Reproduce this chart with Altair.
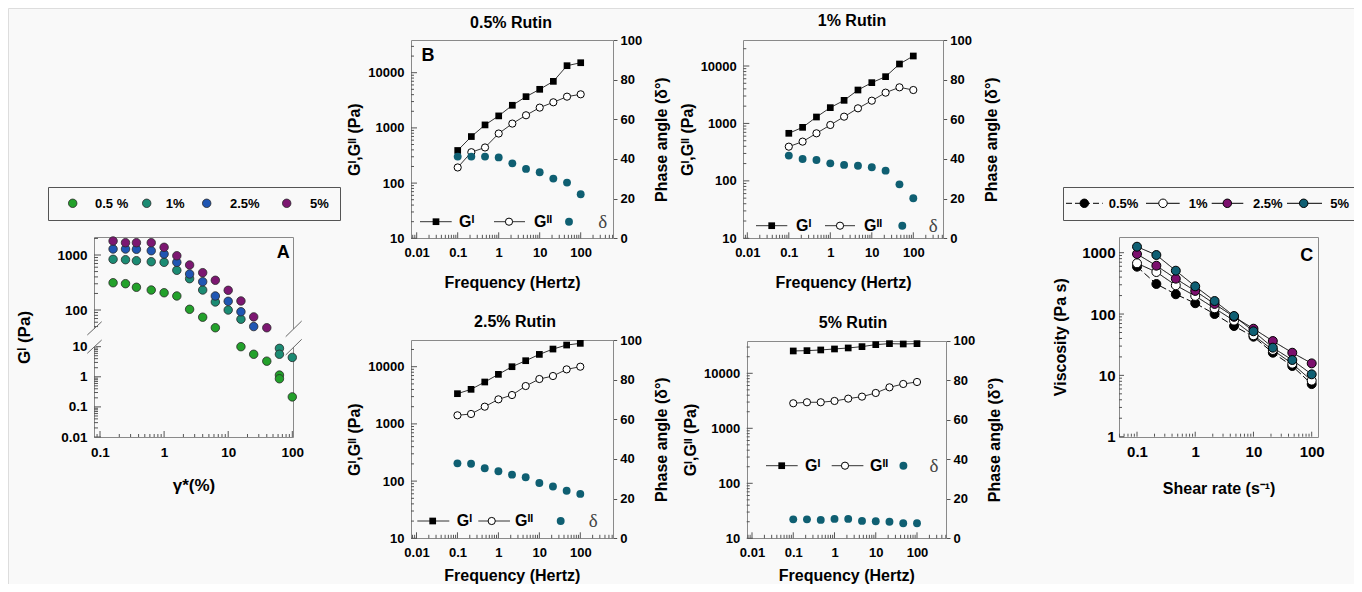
import math
import altair as alt
import pandas as pd

FONT = "Liberation Sans"
SERIF = "Liberation Serif"
W, H = 1346, 576
MARGIN = 8
BG = "#f9f9f9"
AXC = "#555555"
FRAMEC = "#8a8a8a"

# ---------------- data ----------------
# Panel A: G' vs strain amplitude
A_series = ["0.5 %", "1%", "2.5%", "5%"]
A_colors = ["#23a12b", "#1b8b73", "#1f56b3", "#7c1771"]
A_strain_05 = [0.16, 0.25, 0.37, 0.63, 1.0, 1.58, 2.5, 4.0, 6.3, 15.8, 25, 40, 63, 63, 100]
A_G_05 = [313, 301, 259, 231, 206, 180, 103, 74, 47.6, 10, 5.6, 3.3, 1.14, 0.86, 0.215]
A_strain_1 = [0.16, 0.25, 0.37, 0.63, 1.0, 1.58, 2.5, 4.0, 6.3, 10, 15.8, 63, 63, 100]
A_G_1 = [835, 821, 788, 755, 737, 527, 371, 231, 140, 100, 68, 8.8, 5.6, 4.4]
A_strain_25 = [0.16, 0.25, 0.37, 0.63, 1.0, 1.58, 2.5, 4.0, 6.3, 10, 15.8, 25]
A_G_25 = [1285, 1285, 1270, 1197, 1042, 737, 452, 327, 180, 144, 93, 50]
A_strain_5 = [0.16, 0.25, 0.37, 0.63, 1.0, 1.58, 2.5, 4.0, 6.3, 10, 15.8, 25, 40]
A_G_5 = [1797, 1675, 1675, 1675, 1380, 970, 658, 477, 347, 228, 146, 75, 47.6]

# Panel B: frequency sweeps
freq = [0.1, 0.215, 0.464, 1, 2.15, 4.64, 10, 21.5, 46.4, 100]
B05_Gp = [390, 697, 1133, 1650, 2570, 3680, 5000, 6970, 13400, 15160]
B05_Gpp = [192, 363, 442, 791, 1197, 1694, 2330, 2910, 3680, 4060]
B05_delta = [41.2, 41.2, 41.2, 40.8, 37.8, 35.0, 33.3, 30.1, 28.1, 22.2]
B1_Gp = [673, 855, 1294, 1884, 2524, 3818, 5130, 6520, 10830, 14930]
B1_Gpp = [394, 482, 673, 940, 1312, 1833, 2489, 3435, 4254, 3818]
B1_delta = [41.7, 40.0, 39.5, 37.8, 37.0, 36.6, 35.8, 34.1, 27.2, 20.2]
B25_Gp = [3375, 4020, 5400, 7350, 10000, 12730, 16410, 20350, 23920, 25590]
B25_Gpp = [1413, 1491, 2000, 2686, 3198, 4593, 6094, 6870, 8980, 10000]
B25_delta = [37.8, 37.6, 35.3, 33.8, 32.1, 30.8, 27.9, 26.1, 24.0, 22.4]
B5_Gp = [25470, 25830, 26560, 27690, 28890, 30550, 33220, 34600, 34100, 34600]
B5_Gpp = [2851, 2973, 2973, 3140, 3461, 3766, 4389, 5556, 6398, 6952]
B5_delta = [9.6, 9.6, 9.3, 9.8, 9.8, 8.8, 8.6, 8.4, 7.6, 7.6]
DELTA_COLOR = "#0f5f72"

# Panel C: viscosity vs shear rate
shear = [0.1, 0.215, 0.464, 1, 2.15, 4.64, 10, 21.5, 46.4, 100]
C_series = ["0.5%", "1%", "2.5%", "5%"]
C_colors = ["#000000", "#ffffff", "#7b0f6d", "#0f5f73"]
C_05 = [591, 309, 210, 150, 100, 63.8, 42.7, 23.4, 14.2, 7.2]
C_1 = [672, 484, 294, 197, 124, 78, 45, 25.9, 15.5, 8.2]
C_25 = [952, 614, 377, 238, 146, 90, 57.7, 36.3, 23.4, 15.7]
C_5 = [1253, 917, 509, 283, 163, 92.9, 52.3, 28.3, 17.8, 10.4]

ONE = pd.DataFrame({"k": [0]})


def px(v):
    return v - MARGIN


def log_scale(v1, p1, v2, p2, e1, e2):
    a1, a2 = math.log10(v1), math.log10(v2)
    s = (a2 - a1) / (p2 - p1)
    dom = [10 ** (a1 + s * (e1 - p1)), 10 ** (a1 + s * (e2 - p1))]
    return alt.Scale(type="log", domain=dom, range=[px(e1), px(e2)], nice=False), dom


def minor_vals(lo, hi, exps):
    out = []
    for e in exps:
        for m in range(2, 10):
            v = round(m * 10.0 ** e, 6)
            if lo <= v <= hi:
                out.append(v)
    return out


AX = dict(domain=False, ticks=False, grid=False, labelFont=FONT, labelFontWeight="bold",
          labelColor="black", titleFont=FONT, titleFontWeight="bold", titleColor="black",
          labelFlush=False, labelOverlap=False, labelExpr="format(datum.value, '~g')")


def ytick_layer(vals, scale, x_left, length):
    df = pd.DataFrame({"v": vals})
    return alt.Chart(df).mark_rule(color=AXC, strokeWidth=1).encode(
        y=alt.Y("v:Q", scale=scale),
        x=alt.value(px(x_left)), x2=alt.value(px(x_left) + length))


def xtick_layer(vals, scale, y_bottom, length):
    df = pd.DataFrame({"v": vals})
    return alt.Chart(df).mark_rule(color=AXC, strokeWidth=1).encode(
        x=alt.X("v:Q", scale=scale),
        y=alt.value(px(y_bottom)), y2=alt.value(px(y_bottom) - length))


# ---------------- decoration helpers (page coordinates) ----------------
def txt(x, y, s, size=13, weight="bold", align="center", color="black", font=FONT):
    return alt.Chart(ONE).mark_text(text=s, fontSize=size, fontWeight=weight, align=align,
                                    baseline="middle", color=color, font=font).encode(
        x=alt.value(px(x)), y=alt.value(px(y)))


def seg(x1, y1, x2, y2, color="#333333", width=1, dash=None):
    kw = dict(color=color, strokeWidth=width)
    if dash:
        kw["strokeDash"] = dash
    return alt.Chart(ONE).mark_rule(**kw).encode(
        x=alt.value(px(x1)), y=alt.value(px(y1)), x2=alt.value(px(x2)), y2=alt.value(px(y2)))


def frame(x1, y1, x2, y2, color=FRAMEC):
    return alt.Chart(ONE).mark_rect(fill=BG, fillOpacity=0, stroke=color, strokeWidth=1).encode(
        x=alt.value(round(px(x1)) + 0.5), x2=alt.value(round(px(x2)) + 0.5),
        y=alt.value(round(px(y1)) + 0.5), y2=alt.value(round(px(y2)) + 0.5))


def sym(x, y, shape, size, fill, stroke=None, sw=1.0):
    kw = dict(shape=shape, size=size, filled=True, fill=fill, opacity=1)
    if stroke:
        kw["stroke"] = stroke
        kw["strokeWidth"] = sw
    return alt.Chart(ONE).mark_point(**kw).encode(x=alt.value(px(x)), y=alt.value(px(y)))


# ---------------- Panel A ----------------
A_L, A_R, A_T, A_B = 94, 293, 237, 437
sxA, domxA = log_scale(0.1, 100, 100, 292.3, A_L, A_R)
syA = alt.Scale(type="log", domain=[0.01, 12, 40, 2125],
                range=[px(437), px(344.3), px(331.9), px(237)], nice=False)

rowsA = []
for name, xs, ys in zip(A_series, [A_strain_05, A_strain_1, A_strain_25, A_strain_5],
                        [A_G_05, A_G_1, A_G_25, A_G_5]):
    for xv, yv in zip(xs, ys):
        rowsA.append({"series": name, "strain": xv, "g": yv})
dfA = pd.DataFrame(rowsA)

pointsA = alt.Chart(dfA).mark_point(shape="circle", filled=True, size=72, stroke="#2a2a2a",
                                    strokeWidth=0.8, opacity=1).encode(
    x=alt.X("strain:Q", scale=sxA, axis=alt.Axis(
        orient="bottom", offset=-(H - px(A_B)), values=[0.1, 1, 10, 100], labelFontSize=13.5,
        labelPadding=8, title="γ*(%)", titleFontSize=17, titlePadding=19, **AX)),
    y=alt.Y("g:Q", scale=syA, axis=alt.Axis(
        orient="left", offset=-px(A_L), values=[0.01, 0.1, 1, 10, 100, 1000], labelFontSize=13.5,
        labelPadding=7, title="Gᴵ (Pa)", titleFontSize=17, titlePadding=23, **AX)),
    fill=alt.Fill("series:N", scale=alt.Scale(domain=A_series, range=A_colors), legend=None),
)
A_ymin = [v for v in minor_vals(0.01, 9.99, [-2, -1, 0])] + minor_vals(41, 2125, [1, 2, 3])
panelA = alt.layer(
    pointsA,
    ytick_layer([0.01, 0.1, 1, 10, 100, 1000], syA, A_L, 7),
    ytick_layer(A_ymin, syA, A_L, 4),
    xtick_layer([0.1, 1, 10, 100], sxA, A_B, 6),
    xtick_layer(minor_vals(domxA[0], domxA[1], [-2, -1, 0, 1]), sxA, A_B, 3),
)


# ---------------- Panel B ----------------
def panel_b(gp, gpp, dl, L, R, T, Bt, x001, x100, y10000, xtitle_pad=15):
    sx, domx = log_scale(0.01, x001, 100, x100, L, R)
    sy, domy = log_scale(10, Bt, 10000, y10000, Bt, T)
    sd = alt.Scale(type="linear", domain=[0, 100], range=[px(Bt), px(T)], nice=False, zero=False)
    df = pd.DataFrame({"f": freq, "gp": gp, "gpp": gpp, "d": dl})
    xax = alt.Axis(orient="bottom", offset=-(H - px(Bt)), values=[0.01, 0.1, 1, 10, 100],
                   labelFontSize=13, labelPadding=8, title="Frequency (Hertz)", titleFontSize=16,
                   titlePadding=xtitle_pad, **AX)
    yax = alt.Axis(orient="left", offset=-px(L), values=[10, 100, 1000, 10000], labelFontSize=13,
                   labelPadding=7, title="Gᴵ,Gᴵᴵ (Pa)", titleFontSize=16, titlePadding=5, **AX)
    rkw = dict(AX)
    rkw["ticks"] = True
    rax = alt.Axis(orient="right", offset=-(W - px(R)), values=[0, 20, 40, 60, 80, 100],
                   tickSize=4, tickColor=AXC, labelFontSize=13, labelPadding=3,
                   title="Phase angle (δ°)", titleFontSize=16, titlePadding=12, titleAngle=270,
                   titleBaseline="top", **rkw)
    base = alt.Chart(df)
    l1 = base.mark_line(color="#333333", strokeWidth=1).encode(
        x=alt.X("f:Q", scale=sx, axis=xax), y=alt.Y("gp:Q", scale=sy, axis=yax))
    l2 = base.mark_line(color="#333333", strokeWidth=1).encode(
        x=alt.X("f:Q", scale=sx), y=alt.Y("gpp:Q", scale=sy))
    p1 = base.mark_point(shape="square", filled=True, fill="black", size=45, opacity=1).encode(
        x=alt.X("f:Q", scale=sx), y=alt.Y("gp:Q", scale=sy))
    p2 = base.mark_point(shape="circle", filled=True, fill="white", stroke="black", strokeWidth=1,
                         size=52, opacity=1).encode(
        x=alt.X("f:Q", scale=sx), y=alt.Y("gpp:Q", scale=sy))
    g = alt.layer(
        l1, l2,
        ytick_layer([10, 100, 1000, 10000], sy, L, 6),
        ytick_layer(minor_vals(domy[0], domy[1], [1, 2, 3, 4]), sy, L, 3),
        xtick_layer([0.01, 0.1, 1, 10, 100], sx, Bt, 6),
        xtick_layer(minor_vals(domx[0], domx[1], [-3, -2, -1, 0, 1, 2]), sx, Bt, 3.5),
        p1, p2,
    )
    d = base.mark_circle(color=DELTA_COLOR, size=62, opacity=1).encode(
        x=alt.X("f:Q", scale=sx), y=alt.Y("d:Q", scale=sd, axis=rax))
    return alt.layer(g, d).resolve_scale(y="independent")


panelB1 = panel_b(B05_Gp, B05_Gpp, B05_delta, 411, 613, 40, 238.3, 416.7, 580.7, 72.7)
panelB2 = panel_b(B1_Gp, B1_Gpp, B1_delta, 743.3, 942.7, 40, 238.3, 747.3, 913.3, 66)
panelB3 = panel_b(B25_Gp, B25_Gpp, B25_delta, 411, 612.7, 340, 538.3, 416.5, 580.3, 366.7,
                  xtitle_pad=8)
panelB4 = panel_b(B5_Gp, B5_Gpp, B5_delta, 746.7, 946, 340.7, 538.3, 752, 917, 373.3,
                  xtitle_pad=8)

# ---------------- Panel C ----------------
C_L, C_R, C_T, C_B = 1119, 1318.3, 236.7, 436.7
sxC, domxC = log_scale(0.1, 1137, 100, 1311.7, C_L, C_R)
syC, domyC = log_scale(1, 436.7, 1000, 252.7, C_B, C_T)
rowsC = []
for name, ys in zip(C_series, [C_05, C_1, C_25, C_5]):
    for xv, yv in zip(shear, ys):
        rowsC.append({"series": name, "rate": xv, "visc": yv})
dfC = pd.DataFrame(rowsC)
linesC = alt.Chart(dfC).mark_line(color="black", strokeWidth=1).encode(
    x=alt.X("rate:Q", scale=sxC, axis=alt.Axis(
        orient="bottom", offset=-(H - px(C_B)), values=[0.1, 1, 10, 100], labelFontSize=15,
        labelPadding=8, title="Shear rate (s⁻¹)", titleFontSize=16, titlePadding=21, **AX)),
    y=alt.Y("visc:Q", scale=syC, axis=alt.Axis(
        orient="left", offset=-px(C_L), values=[1, 10, 100, 1000], labelFontSize=15,
        labelPadding=4, title="Viscosity (Pa s)", titleFontSize=16, titlePadding=13, **AX)),
    strokeDash=alt.StrokeDash("series:N", scale=alt.Scale(
        domain=C_series, range=[[7, 3], [1, 0], [1, 0], [1, 0]]), legend=None),
)
pointsC = alt.Chart(dfC).mark_point(shape="circle", filled=True, size=80, stroke="black",
                                    strokeWidth=1, opacity=1).encode(
    x=alt.X("rate:Q", scale=sxC),
    y=alt.Y("visc:Q", scale=syC),
    fill=alt.Fill("series:N", scale=alt.Scale(domain=C_series, range=C_colors), legend=None),
)
panelC = alt.layer(
    linesC,
    ytick_layer([1, 10, 100, 1000], syC, C_L, 5),
    ytick_layer(minor_vals(domyC[0], domyC[1], [0, 1, 2]), syC, C_L, 3),
    xtick_layer([0.1, 1, 10, 100], sxC, C_B, 5),
    xtick_layer(minor_vals(domxC[0], domxC[1], [-2, -1, 0, 1]), sxC, C_B, 3),
    pointsC,
)

# ---------------- decorations ----------------
frames = [
    frame(A_L, A_T, A_R, A_B),
    frame(411, 40, 613, 238.3), frame(743.3, 40, 942.7, 238.3),
    frame(411, 340, 612.7, 538.3), frame(746.7, 340.7, 946, 538.3),
    frame(C_L, C_T, C_R, C_B),
]

deco = []
# axis break in panel A
deco += [seg(A_L, 329, A_L, 347, color=BG, width=3), seg(A_R, 329, A_R, 347, color=BG, width=3)]
deco += [seg(87.3, 335, 101.7, 321.7, "#666666"), seg(87.3, 353.3, 101.7, 340, "#666666"),
         seg(285.7, 336.7, 301.7, 321, "#666666"), seg(285.7, 355, 301.7, 339.3, "#666666")]
# panel letters
deco += [txt(283.3, 252.7, "A", size=18), txt(428, 55.5, "B", size=18), txt(1306.7, 256, "C", size=18)]
# titles of frequency panels
deco += [txt(511, 22.5, "0.5% Rutin", size=16), txt(852, 21, "1% Rutin", size=16),
         txt(515, 322, "2.5% Rutin", size=16), txt(853, 322.5, "5% Rutin", size=16)]

# legend of panel A
deco.append(frame(48, 187, 340, 220, color="#555555"))
for cx, lx, name, col in zip([72.7, 146.7, 206.7, 286.7], [95, 165.7, 230, 310], A_series, A_colors):
    deco.append(sym(cx, 203.3, "circle", 72, col, "#2a2a2a", 0.8))
    deco.append(txt(lx, 203.8, name, size=13, align="left"))

# legend of panel C
deco.append(frame(1062.7, 186.7, 1353.5, 220, color="#555555"))
C_leg = [(1066, 1102.7, 1084.3, 1108.7), (1146, 1179.7, 1163, 1188.7),
         (1211.7, 1243.3, 1227.3, 1253), (1287, 1322, 1303.7, 1330.3)]
for (a, b, cx, lx), name, col in zip(C_leg, C_series, C_colors):
    deco.append(seg(a, 203.3, b, 203.3, "black", 1, dash=[6, 3] if name == "0.5%" else None))
    deco.append(sym(cx, 203.3, "circle", 72, col, "black", 1))
    deco.append(txt(lx, 203.8, name, size=13, align="left"))

# legends of frequency panels: (left, y, line1, square, G', line2, circle, G'', dot, delta)
B_leg = [
    (411, 221.7, (9, 40.7), 25, 48, (83, 114), 98, 123, 158, 191.7),
    (743.3, 225.7, (12.7, 44), 28.4, 52.7, (81.7, 111.7), 96.7, 120.7, 159, 190),
    (411, 521, (6.3, 38.3), 21.7, 45.7, (67.3, 99), 80.7, 104, 149.7, 182.3),
    (746.7, 465.7, (19.3, 51), 35, 58.3, (85, 116.7), 98.3, 123.3, 156.7, 187.3),
]
for L, y, ln1, sq, g1, ln2, ci, g2, dot, dx in B_leg:
    deco.append(seg(L + ln1[0], y, L + ln1[1], y, "#333333"))
    deco.append(sym(L + sq, y, "square", 45, "black"))
    deco.append(txt(L + g1, y, "Gᴵ", size=16, align="left"))
    deco.append(seg(L + ln2[0], y, L + ln2[1], y, "#333333"))
    deco.append(sym(L + ci, y, "circle", 52, "white", "black", 1))
    deco.append(txt(L + g2, y, "Gᴵᴵ", size=16, align="left"))
    deco.append(sym(L + dot, y, "circle", 62, DELTA_COLOR))
    deco.append(txt(L + dx, y, "δ", size=19, weight="normal", color="#444444", font=SERIF))

chart = alt.layer(
    *frames, panelA, panelB1, panelB2, panelB3, panelB4, panelC, *deco
).resolve_scale(
    x="independent", y="independent", fill="independent", strokeDash="independent"
).properties(
    width=W, height=H, padding=0, background=BG,
    autosize=alt.AutoSizeParams(type="none"),
).configure_view(strokeOpacity=0).configure(font=FONT)

chart.save("out.html", embed_options={"renderer": "svg", "actions": False})
